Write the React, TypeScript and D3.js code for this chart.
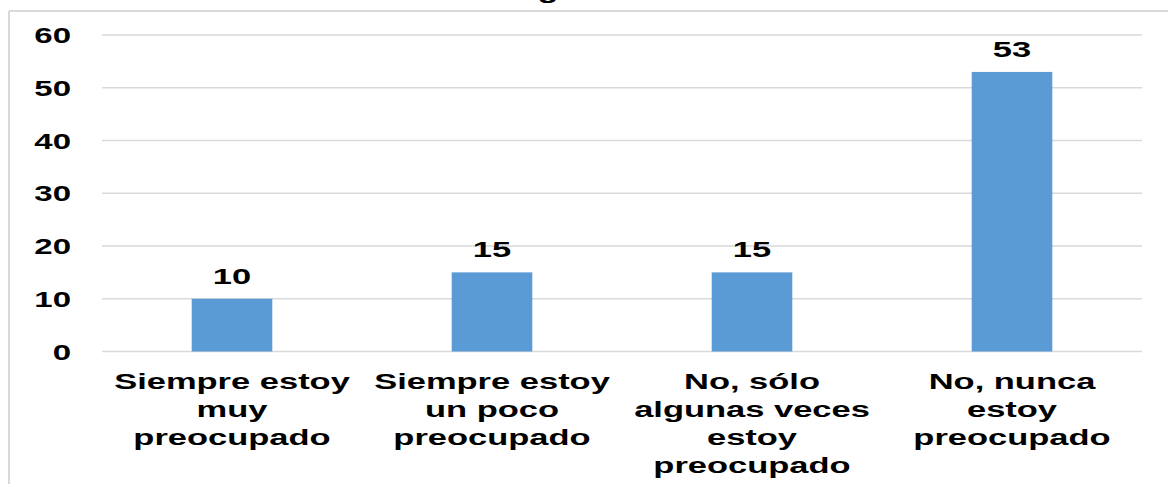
import * as d3 from 'd3';

const WIDTH = 1168;
const HEIGHT = 484;
const MARGIN = { top: 35, right: 26, bottom: 132, left: 102 };
const X_STRETCH = 1.5; // text in the picture is widened horizontally

const categories = ['c1', 'c2', 'c3', 'c4'];
const categoryLines = [
  ['Siempre estoy', 'muy', 'preocupado'],
  ['Siempre estoy', 'un poco', 'preocupado'],
  ['No, sólo', 'algunas veces', 'estoy', 'preocupado'],
  ['No, nunca', 'estoy', 'preocupado'],
];
const values = [10, 15, 15, 53];
const yTicks = [0, 10, 20, 30, 40, 50, 60];
const titleFragment = 'g';

const StretchText = ({ x, y, children, size, anchor = 'middle' }: any) => (
  <text
    transform={`translate(${x},${y}) scale(${X_STRETCH},1)`}
    textAnchor={anchor}
    fontSize={size}
    fontWeight="bold"
    fontFamily="Liberation Sans, Arial, sans-serif"
    fill="#000"
  >
    {children}
  </text>
);

const App = () => {
  const boundsWidth = WIDTH - MARGIN.left - MARGIN.right;
  const y0 = 351.5;

  const xScale = d3
    .scaleBand()
    .domain(categories)
    .range([MARGIN.left, MARGIN.left + boundsWidth])
    .paddingInner(0.69)
    .paddingOuter(0.345);

  const yScale = d3.scaleLinear().domain([0, 60]).range([y0, MARGIN.top]);

  const step = xScale.step();

  return (
    <svg
      width={WIDTH}
      height={HEIGHT}
      style={{ position: 'absolute', left: 0, top: 0, background: '#fff' }}
    >
      {/* chart frame */}
      <line x1={9} x2={WIDTH} y1={11} y2={11} stroke="#d9d9d9" strokeWidth={2} />
      <line x1={9} x2={9} y1={11} y2={HEIGHT} stroke="#d9d9d9" strokeWidth={2} />

      <StretchText x={548} y={-2} size={23}>
        {titleFragment}
      </StretchText>

      {yTicks.map((t) => (
        <g key={t}>
          <line
            x1={MARGIN.left}
            x2={MARGIN.left + boundsWidth}
            y1={yScale(t)}
            y2={yScale(t)}
            stroke="#d9d9d9"
            strokeWidth={1.5}
          />
          <StretchText x={71} y={yScale(t) + 8} size={22} anchor="end">
            {t}
          </StretchText>
        </g>
      ))}

      {values.map((v, i) => {
        const x = xScale(categories[i]);
        if (x === undefined) return null;
        const cx = x + xScale.bandwidth() / 2;
        return (
          <g key={i}>
            <rect
              x={x}
              y={yScale(v)}
              width={xScale.bandwidth()}
              height={y0 - yScale(v)}
              fill="#5b9bd5"
            />
            <StretchText x={cx} y={yScale(v) - 15} size={23}>
              {v}
            </StretchText>
            {categoryLines[i].map((line, j) => (
              <StretchText key={j} x={cx} y={389 + j * 28} size={23}>
                {line}
              </StretchText>
            ))}
          </g>
        );
      })}
      {/* keep step referenced for band layout */}
      <desc>{`step ${step.toFixed(1)}`}</desc>
    </svg>
  );
};

export default App;
